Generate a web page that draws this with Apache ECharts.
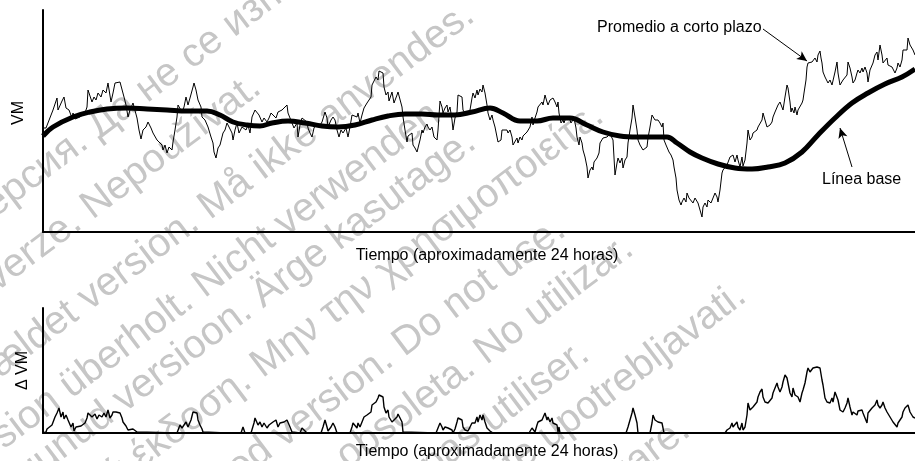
<!DOCTYPE html>
<html><head><meta charset="utf-8">
<script src="https://cdn.jsdelivr.net/npm/echarts@6/dist/echarts.min.js"></script>
<style>html,body{margin:0;padding:0;background:#fff}#c{width:915px;height:461px}</style>
</head><body><div id="c"></div>
<script>
// time in arbitrary units (0..872 ≈ 24 h), values in arbitrary VM units
const shortAvg = [[0,104],[3,104],[5,105],[10,122],[14,134],[15,122],[19,131],[21,135],[23,124],[26,122],[29,114],[30,119],[32,113],[37,115],[42,119],[44,125],[45,142],[47,143],[49,130],[51,135],[53,132],[55,139],[58,135],[60,142],[63,139],[65,149],[68,130],[70,139],[72,149],[74,149],[77,150],[79,149],[81,135],[83,127],[85,115],[87,122],[90,129],[92,129],[94,114],[96,102],[98,93],[100,102],[103,105],[105,110],[108,104],[110,99],[114,92],[116,94],[119,87],[120,82],[122,87],[124,79],[126,85],[129,82],[130,90],[132,102],[134,115],[135,127],[137,126],[139,120],[141,125],[143,135],[145,127],[147,134],[150,145],[151,149],[153,142],[155,132],[158,125],[159,115],[162,112],[165,105],[168,95],[170,89],[171,80],[173,74],[175,84],[177,87],[180,99],[182,102],[184,109],[186,105],[189,99],[190,92],[192,102],[194,109],[196,99],[199,105],[201,107],[203,102],[205,107],[207,99],[209,115],[212,122],[214,124],[216,117],[219,110],[221,114],[224,110],[226,114],[228,119],[230,120],[233,114],[235,120],[237,119],[239,122],[241,124],[244,127],[245,119],[247,114],[249,109],[251,104],[254,109],[255,95],[257,107],[259,114],[261,115],[264,110],[265,104],[267,99],[269,95],[271,104],[274,109],[276,105],[279,110],[282,120],[284,114],[285,105],[288,112],[290,115],[292,112],[294,102],[296,95],[298,102],[300,99],[303,104],[305,95],[307,105],[309,117],[311,119],[314,115],[315,119],[317,109],[319,117],[321,124],[324,129],[326,132],[328,135],[329,147],[331,149],[333,155],[335,152],[336,161],[338,163],[340,159],[341,145],[343,137],[345,140],[346,131],[348,132],[349,140],[351,129],[354,137],[355,140],[357,141],[359,125],[360,115],[362,102],[364,90],[365,96],[367,94],[369,99],[370,87],[372,84],[374,80],[375,79],[377,92],[379,102],[380,99],[382,105],[384,108],[385,105],[387,102],[389,105],[391,95],[394,92],[395,102],[397,131],[399,125],[400,119],[402,124],[404,127],[405,120],[407,125],[409,112],[410,102],[412,114],[414,120],[415,137],[417,139],[419,135],[420,122],[422,119],[424,121],[425,119],[427,122],[429,134],[430,139],[432,134],[434,142],[435,137],[437,143],[439,140],[440,147],[442,139],[444,127],[445,119],[447,112],[449,117],[450,112],[452,105],[454,95],[455,90],[458,92],[459,102],[461,104],[464,102],[465,99],[467,102],[469,95],[470,87],[472,85],[474,94],[475,89],[477,95],[479,92],[480,96],[482,94],[484,100],[485,99],[487,105],[489,115],[490,107],[492,114],[494,120],[495,125],[497,125],[499,130],[500,127],[502,137],[504,130],[505,127],[507,132],[509,130],[510,134],[512,130],[514,125],[515,130],[516,119],[518,109],[520,112],[521,109],[523,115],[525,112],[526,115],[528,109],[530,110],[531,114],[533,104],[534,95],[536,87],[537,95],[539,89],[540,82],[542,75],[544,65],[545,54],[547,62],[549,65],[550,62],[551,70],[553,69],[554,74],[556,79],[557,89],[559,90],[560,94],[562,92],[564,95],[565,96],[567,98],[569,97],[570,92],[572,57],[574,69],[575,74],[577,69],[579,74],[580,64],[582,72],[584,75],[585,89],[587,102],[589,114],[590,127],[592,115],[594,102],[595,92],[597,87],[599,87],[600,82],[602,80],[604,85],[605,94],[607,105],[609,117],[610,116],[612,112],[614,110],[615,112],[617,109],[619,105],[620,109],[621,92],[623,87],[625,85],[626,80],[628,77],[630,72],[631,65],[633,54],[634,42],[636,32],[638,27],[639,30],[641,34],[643,30],[644,39],[646,34],[648,35],[650,29],[652,34],[655,29],[657,22],[659,15],[660,25],[662,29],[664,25],[665,32],[668,29],[670,34],[672,39],[674,35],[675,30],[677,42],[679,59],[680,62],[682,64],[684,67],[685,69],[687,75],[689,74],[690,77],[692,70],[694,77],[695,72],[697,65],[699,75],[700,66],[702,72],[704,89],[705,102],[707,92],[709,95],[710,99],[712,97],[714,102],[715,105],[717,107],[719,112],[720,119],[722,112],[724,105],[725,104],[727,107],[729,110],[730,115],[732,120],[734,122],[735,127],[737,130],[739,129],[740,122],[742,135],[744,147],[745,144],[747,130],[748,120],[749,124],[751,119],[752,125],[754,117],[755,122],[757,124],[759,129],[760,132],[761,139],[763,152],[764,165],[765,169],[767,167],[769,170],[770,172],[772,174],[774,170],[775,177],[777,181],[778,174],[779,169],[780,160],[782,155],[784,154],[785,149],[787,152],[789,147],[790,149],[792,160],[794,170],[795,159],[797,147],[799,149],[800,152],[802,150],[804,157],[805,170],[807,164],[809,155],[810,149],[812,152],[814,159],[815,162],[817,159],[819,164],[820,160],[822,165],[824,159],[825,150],[827,162],[829,160],[830,169],[832,177],[834,180],[835,172],[837,187],[839,177],[840,169],[842,170],[844,174],[845,167],[847,169],[849,165],[850,164],[852,159],[854,164],[855,169],[857,165],[859,172],[860,182],[862,184],[864,182],[865,194],[867,187],[869,185],[870,182],[872,177]];

const baseline = [[0,96],[10,105],[30,115],[47,120],[64,123],[84,124],[104,123],[124,122],[144,121],[164,121],[177,117],[190,110],[204,107],[217,106],[229,109],[245,111],[262,109],[279,106],[295,105],[312,107],[329,112],[345,116],[362,118],[379,118],[395,117],[412,117],[429,120],[447,124],[460,119],[477,111],[494,111],[510,114],[527,114],[544,107],[560,100],[577,96],[594,95],[610,95],[624,95],[634,89],[647,80],[659,74],[675,68],[692,64],[709,63],[725,65],[742,69],[759,80],[775,97],[792,114],[809,129],[825,139],[842,148],[859,155],[872,163]];

const deltaVM = [[0,0],[3,1],[4,4],[6,2],[9,8],[12,16],[14,20],[16,25],[18,16],[20,21],[21,14],[23,18],[25,13],[28,6],[30,10],[31,2],[33,6],[35,5],[38,7],[40,5],[42,10],[44,15],[45,20],[47,21],[49,16],[50,15],[52,19],[54,14],[56,18],[59,16],[61,20],[63,16],[65,23],[67,15],[69,18],[70,21],[73,21],[75,21],[77,20],[79,15],[80,11],[83,7],[85,3],[87,1],[90,4],[92,4],[94,1],[96,0],[134,0],[135,1],[137,8],[139,5],[140,7],[143,11],[145,6],[148,13],[150,21],[152,22],[154,20],[155,13],[157,8],[159,4],[160,1],[161,0],[183,0],[184,2],[185,0],[198,0],[200,6],[202,0],[208,0],[211,10],[212,15],[214,13],[215,8],[217,11],[219,6],[221,10],[224,5],[226,8],[228,6],[230,11],[233,13],[235,6],[237,10],[239,8],[241,11],[244,13],[245,15],[247,6],[249,1],[250,0],[257,0],[259,5],[261,5],[264,0],[278,0],[280,6],[282,13],[284,6],[285,2],[288,6],[290,10],[292,6],[294,0],[307,0],[309,6],[310,10],[312,8],[314,5],[315,10],[317,6],[319,11],[321,16],[324,18],[326,19],[328,21],[329,28],[331,30],[333,31],[335,35],[336,38],[338,39],[340,36],[341,26],[343,20],[345,23],[346,16],[348,15],[349,11],[351,13],[354,16],[355,19],[357,20],[359,11],[360,1],[361,0],[393,0],[395,2],[397,10],[399,6],[400,3],[402,6],[404,8],[405,5],[407,6],[409,3],[410,0],[412,4],[414,11],[415,15],[417,16],[419,13],[420,6],[422,3],[424,5],[425,2],[427,6],[429,10],[430,11],[432,10],[434,16],[435,11],[437,18],[439,13],[440,18],[442,11],[444,5],[445,3],[447,2],[449,3],[450,0],[486,0],[487,2],[489,5],[490,3],[492,1],[494,8],[495,11],[497,12],[499,13],[500,12],[502,20],[504,13],[505,16],[507,11],[509,15],[510,10],[512,11],[514,8],[515,1],[516,6],[517,0],[526,0],[527,2],[528,0],[583,0],[585,6],[587,13],[589,20],[590,25],[592,18],[594,10],[595,0],[607,0],[609,10],[610,18],[612,13],[614,15],[615,11],[617,13],[619,10],[620,11],[621,0],[682,0],[684,3],[685,2],[687,5],[689,10],[690,6],[692,8],[694,11],[695,6],[697,3],[699,10],[700,3],[702,6],[704,18],[705,30],[707,23],[709,25],[710,26],[712,28],[714,31],[715,36],[717,41],[719,44],[720,36],[722,31],[724,29],[725,30],[727,31],[729,35],[730,40],[732,45],[734,50],[735,46],[737,41],[739,46],[740,51],[742,58],[744,55],[745,50],[747,40],[749,36],[750,45],[752,38],[754,40],[755,36],[757,31],[759,40],[760,43],[762,50],[764,61],[765,65],[767,61],[769,63],[770,65],[772,65],[774,66],[775,68],[777,65],[779,53],[780,48],[782,35],[784,31],[785,33],[787,30],[789,35],[790,31],[792,41],[794,43],[795,33],[797,23],[799,25],[800,21],[802,25],[804,30],[805,35],[807,26],[809,18],[810,21],[812,23],[814,18],[815,22],[817,21],[819,23],[820,20],[822,21],[824,10],[825,20],[827,21],[829,25],[830,25],[832,28],[834,33],[835,28],[837,25],[839,28],[840,31],[842,25],[844,21],[845,20],[847,16],[849,15],[850,11],[852,10],[854,6],[855,10],[857,13],[859,16],[860,21],[862,25],[864,23],[865,28],[867,21],[869,20],[870,16],[872,15]];

// annotation arrows (data coordinates: [time, VM])
const arrowShort = [[720,203],[764,171]];
const arrowBase = [[809,65],[797,104]];

const labels = {
  vm: 'VM', dvm: 'Δ VM', time: 'Tiempo (aproximadamente 24 horas)',
  shortAvg: 'Promedio a corto plazo', base: 'Línea base'
};

// watermark lines: [text, anchor word, anchor centre x, anchor centre y]
const watermark = [
 ['Остаряла версия. Да не се използва.', 'Да', 112, 116],
 ['Zastaralá verze. Nepoužívat.', 'Nepoužívat.', 171, 147],
 ['Forældet version. Må ikke anvendes.', 'ikke', 285, 150],
 ['Version überholt. Nicht verwenden.', 'verwenden.', 362, 166],
 ['Aegunud versioon. Ärge kasutage.', 'kasutage.', 402, 190],
 ['Παλιά έκδοση. Μην την χρησιμοποιείτε.', 'Μην', 286, 347],
 ['Outdated version. Do not use.', 'Do', 418, 333],
 ['Versión obsoleta. No utilizar.', 'No', 500, 341],
 ['Version périmée. Ne pas utiliser.', 'utiliser.', 535, 387],
 ['Zastarjela verzija. Nemojte upotrebljavati.', 'upotrebljavati.', 642, 366],
 ['Versione obsoleta. Non utilizzare.', 'utilizzare.', 618, 476]
];

const FONT = '"Liberation Sans", Arial, sans-serif';
const WM_SIZE = 40, WM_ANGLE = 37 * Math.PI / 180;
const mctx = document.createElement('canvas').getContext('2d');
mctx.font = WM_SIZE + 'px ' + FONT;
const wmGraphics = watermark.map(([txt, anchor, ax, ay]) => {
  const idx = txt.indexOf(anchor);
  const pre = mctx.measureText(txt.slice(0, idx)).width;
  const aw = mctx.measureText(anchor).width;
  const d = pre + aw / 2;
  return {
    type: 'text', silent: true, z: -10,
    x: ax - d * Math.cos(WM_ANGLE), y: ay + d * Math.sin(WM_ANGLE),
    rotation: WM_ANGLE,
    style: { text: txt, fill: '#c6c6c6', font: WM_SIZE + 'px ' + FONT,
             textAlign: 'left', verticalAlign: 'middle', textVerticalAlign: 'middle' }
  };
});

const chart = echarts.init(document.getElementById('c'), null, {renderer: 'canvas'});
const axisLine = { show: true, onZero: false, lineStyle: { color: '#000', width: 2 } };
const nameStyle = { color: '#000', fontSize: 16, fontFamily: FONT };
chart.setOption({
  animation: false,
  backgroundColor: '#fff',
  graphic: [
    ...wmGraphics,
    { type: 'text', left: 597, top: 20, style: { text: labels.shortAvg, fill: '#000', font: '16px ' + FONT } },
    { type: 'text', left: 822, top: 172, style: { text: labels.base, fill: '#000', font: '16px ' + FONT } }
  ],
  grid: [
    { left: 43, top: 10, width: 872, height: 222, containLabel: false, outerBoundsMode: 'none' },
    { left: 43, top: 308, width: 872, height: 125, containLabel: false, outerBoundsMode: 'none' }
  ],
  xAxis: [
    { gridIndex: 0, type: 'value', min: 0, max: 872, axisLine, axisTick: {show: false}, axisLabel: {show: false}, splitLine: {show: false},
      name: labels.time, nameLocation: 'middle', nameGap: 16, nameTextStyle: { ...nameStyle, padding: [0, 0, 0, 16] } },
    { gridIndex: 1, type: 'value', min: 0, max: 872, axisLine, axisTick: {show: false}, axisLabel: {show: false}, splitLine: {show: false},
      name: labels.time, nameLocation: 'middle', nameGap: 11, nameTextStyle: { ...nameStyle, padding: [0, 0, 0, 16] } }
  ],
  yAxis: [
    { gridIndex: 0, type: 'value', min: 0, max: 222, axisLine, axisTick: {show: false}, axisLabel: {show: false}, splitLine: {show: false},
      name: labels.vm, nameLocation: 'middle', nameGap: 16, nameTextStyle: { ...nameStyle, padding: [0, 0, 0, 16] } },
    { gridIndex: 1, type: 'value', min: 0, max: 125, axisLine, axisTick: {show: false}, axisLabel: {show: false}, splitLine: {show: false},
      name: labels.dvm, nameLocation: 'middle', nameGap: 12, nameTextStyle: nameStyle }
  ],
  series: [
    { type: 'line', name: labels.shortAvg, xAxisIndex: 0, yAxisIndex: 0, data: shortAvg, symbol: 'none',
      lineStyle: { color: '#000', width: 1 }, z: 3,
      markLine: { silent: true, symbol: ['none', 'arrow'], symbolSize: [7, 10], label: {show: false},
        lineStyle: { color: '#000', width: 1, type: 'solid' },
        data: [
          [{ coord: arrowShort[0] }, { coord: arrowShort[1] }],
          [{ coord: arrowBase[0] }, { coord: arrowBase[1] }]
        ] } },
    { type: 'line', name: labels.base, xAxisIndex: 0, yAxisIndex: 0, data: baseline, symbol: 'none', smooth: 0.4,
      lineStyle: { color: '#000', width: 5 }, z: 4 },
    { type: 'line', name: labels.dvm, xAxisIndex: 1, yAxisIndex: 1, data: deltaVM, symbol: 'none',
      lineStyle: { color: '#000', width: 1.4 }, z: 3 }
  ]
});
</script>
</body></html>
